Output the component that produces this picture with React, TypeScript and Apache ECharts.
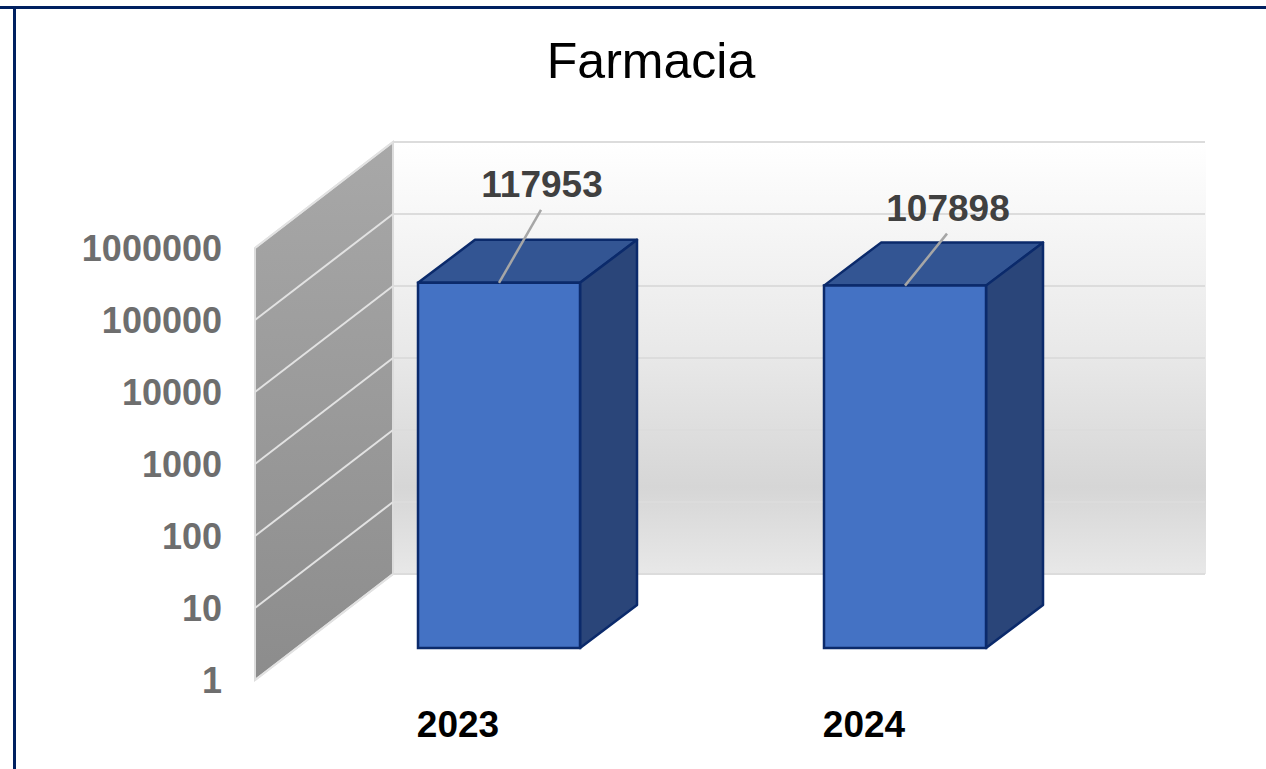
import React, { useEffect, useRef } from "react";
import * as echarts from "echarts";

const title = "Farmacia";
const years = ["2023", "2024"];
const values = [117953, 107898];
const logTicks = [1, 10, 100, 1000, 10000, 100000, 1000000];
const leaderRise = [73, 52];

const WALL_DX = 138;
const WALL_DY = -106;
const BAR_SHIFT_X = 41;
const BAR_SHIFT_Y = -32;
const BAR_DX = 57;
const BAR_DY = -43;
const BAR_WIDTH = 162;
const FONT = '"Liberation Sans", Arial, sans-serif';
const EDGE = "#0b2a6b";

export default function App() {
  const ref = useRef<HTMLDivElement>(null);
  useEffect(() => {
    const chart = echarts.init(ref.current!, null, { renderer: "svg" });

    const renderWalls = (params: any, api: any) => {
      const cs = params.coordSys;
      const tick = api.value(0);
      const p = api.coord([0, tick]);
      const y = p[1];
      const left = cs.x;
      const right = cs.x + cs.width;
      const top = cs.y;
      const bottom = cs.y + cs.height;
      const children: any[] = [];
      if (params.dataIndex === 0) {
        children.push({
          type: "rect",
          shape: { x: left + WALL_DX, y: top + WALL_DY, width: right - left + 1, height: bottom - top },
          style: {
            fill: new echarts.graphic.LinearGradient(0, 0, 0, 1, [
              { offset: 0, color: "#ffffff" },
              { offset: 0.5, color: "#e8e8e8" },
              { offset: 0.8, color: "#d6d6d6" },
              { offset: 1, color: "#e8e8e8" },
            ]),
          },
        });
        children.push({
          type: "polygon",
          shape: {
            points: [
              [left, top],
              [left + WALL_DX, top + WALL_DY],
              [left + WALL_DX, bottom + WALL_DY],
              [left, bottom],
            ],
          },
          style: {
            fill: new echarts.graphic.LinearGradient(0, 0, 0, 1, [
              { offset: 0, color: "#a8a8a8" },
              { offset: 1, color: "#8c8c8c" },
            ]),
            stroke: "#dcdcdc",
            lineWidth: 2,
          },
        });
      }
      children.push({
        type: "line",
        shape: { x1: left + WALL_DX, y1: y + WALL_DY, x2: right + WALL_DX, y2: y + WALL_DY },
        style: { stroke: "#dcdcdc", lineWidth: 2 },
      });
      children.push({
        type: "line",
        shape: { x1: left, y1: y, x2: left + WALL_DX, y2: y + WALL_DY },
        style: { stroke: "#e2e2e2", lineWidth: 2 },
      });
      return { type: "group", children };
    };

    const renderBars = (params: any, api: any) => {
      const i = api.value(0);
      const top = api.coord([i, api.value(1)]);
      const base = api.coord([i, 1]);
      const x0 = top[0] + BAR_SHIFT_X - BAR_WIDTH / 2;
      const x1 = x0 + BAR_WIDTH;
      const yt = top[1] + BAR_SHIFT_Y;
      const yb = base[1] + BAR_SHIFT_Y;
      const lw = 2.5;
      const rise = leaderRise[params.dataIndex];
      const cx = (x0 + x1) / 2;
      return {
        type: "group",
        children: [
          {
            type: "polygon",
            shape: { points: [[x0, yt], [x0 + BAR_DX, yt + BAR_DY], [x1 + BAR_DX, yt + BAR_DY], [x1, yt]] },
            style: { fill: "#335593", stroke: EDGE, lineWidth: lw, lineJoin: "round" },
          },
          {
            type: "polygon",
            shape: { points: [[x1, yt], [x1 + BAR_DX, yt + BAR_DY], [x1 + BAR_DX, yb + BAR_DY], [x1, yb]] },
            style: { fill: "#2a4579", stroke: EDGE, lineWidth: lw, lineJoin: "round" },
          },
          {
            type: "rect",
            shape: { x: x0, y: yt, width: BAR_WIDTH, height: yb - yt },
            style: { fill: "#4472c4", stroke: EDGE, lineWidth: lw },
          },
          {
            type: "line",
            shape: { x1: cx, y1: yt, x2: cx + 42, y2: yt - rise },
            style: { stroke: "#a6a6a6", lineWidth: 2.5 },
          },
          {
            type: "text",
            style: {
              x: cx + 43,
              y: yt - rise - 25,
              text: String(api.value(1)),
              fill: "#404040",
              font: `bold 37px ${FONT}`,
              textAlign: "center",
              textVerticalAlign: "middle",
            },
          },
        ],
      };
    };

    chart.setOption({
      animation: false,
      backgroundColor: "#ffffff",
      title: {
        text: title,
        left: 646,
        top: 31,
        textAlign: "center",
        textStyle: { fontFamily: FONT, fontWeight: "normal", fontSize: 50, color: "#000000" },
      },
      graphic: [
        { type: "rect", shape: { x: 0, y: 6, width: 1266, height: 3 }, style: { fill: "#002060" }, z: 10 },
        { type: "rect", shape: { x: 13, y: 6, width: 3, height: 763 }, style: { fill: "#002060" }, z: 10 },
      ],
      grid: { left: 255, top: 248, width: 812, height: 432 },
      xAxis: {
        type: "category",
        data: years,
        axisLine: { show: false },
        axisTick: { show: false },
        splitLine: { show: false },
        axisLabel: { fontFamily: FONT, fontWeight: "bold", fontSize: 37, color: "#000000", margin: 26 },
      },
      yAxis: {
        type: "log",
        logBase: 10,
        min: 1,
        max: 1000000,
        axisLine: { show: false },
        axisTick: { show: false },
        splitLine: { show: false },
        minorSplitLine: { show: false },
        axisLabel: {
          fontFamily: FONT,
          fontWeight: "bold",
          fontSize: 36,
          color: "#6e6e6e",
          margin: 33,
          formatter: (v: number) => String(Math.round(v)),
        },
      },
      series: [
        {
          type: "custom",
          name: "walls",
          coordinateSystem: "cartesian2d",
          clip: false,
          silent: true,
          z: 1,
          encode: { y: 0 },
          data: logTicks.map((t) => [t]),
          renderItem: renderWalls,
        },
        {
          type: "custom",
          name: "bars",
          coordinateSystem: "cartesian2d",
          clip: false,
          z: 2,
          encode: { x: 0, y: 1 },
          data: values.map((v, i) => [i, v]),
          renderItem: renderBars,
        },
      ],
    });
    return () => chart.dispose();
  }, []);

  return (
    <div
      ref={ref}
      style={{ position: "absolute", left: 0, top: 0, width: 1266, height: 769, overflow: "hidden" }}
    />
  );
}
